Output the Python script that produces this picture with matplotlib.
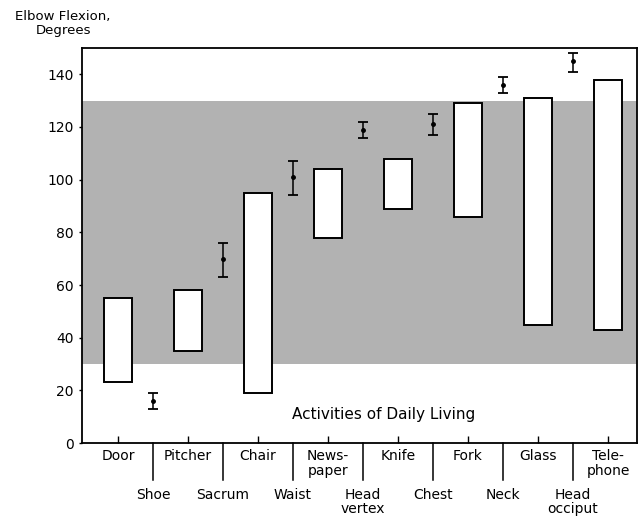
import matplotlib
matplotlib.use("Agg")
import matplotlib.pyplot as plt

# Range of elbow flexion (degrees) used for each activity of daily living
activities = ["Door", "Pitcher", "Chair", "News-\npaper", "Knife", "Fork", "Glass", "Tele-\nphone"]
range_low = [23, 35, 19, 78, 89, 86, 45, 43]
range_high = [55, 58, 95, 104, 108, 129, 131, 138]

# Flexion needed to reach body locations: mean with spread
reach_sites = ["Shoe", "Sacrum", "Waist", "Head\nvertex", "Chest", "Neck", "Head\nocciput"]
reach_mean = [16, 70, 101, 119, 121, 136, 145]
reach_low = [13, 63, 94, 116, 117, 133, 141]
reach_high = [19, 76, 107, 122, 125, 139, 148]

# Functional arc of motion
functional_arc = (30, 130)

y_ticks = [0, 20, 40, 60, 80, 100, 120, 140]

plt.rcParams["font.family"] = ["DejaVu Sans"]

fig = plt.figure(figsize=(6.43, 5.17), dpi=100)
ax = fig.add_axes([0.1275, 0.1431, 0.8632, 0.7641])

ax.axhspan(functional_arc[0], functional_arc[1], color="#b2b2b2", lw=0, zorder=0)

# Open boxes for activity ranges
x_act = list(range(len(activities)))
heights = [h - l for l, h in zip(range_low, range_high)]
ax.bar(x_act, heights, bottom=range_low, width=0.4, color="white",
       edgecolor="black", linewidth=1.4, zorder=3)

# Reach points sit between the activity columns
x_reach = [i + 0.5 for i in range(len(reach_sites))]
err_lo = [m - l for m, l in zip(reach_mean, reach_low)]
err_hi = [h - m for m, h in zip(reach_mean, reach_high)]
ax.errorbar(x_reach, reach_mean, yerr=[err_lo, err_hi], fmt="o", color="black",
            markersize=2.5, capsize=3.6, elinewidth=1.1, capthick=1.3, zorder=4)

ax.set_xlim(-0.514, 7.414)
ax.set_ylim(0, 150)
ax.set_yticks(y_ticks)
ax.tick_params(axis="y", length=2, width=1, labelsize=10, pad=4)
ax.set_xticks(x_act)
ax.set_xticklabels([])
ax.tick_params(axis="x", direction="in", length=5, width=1)
for s in ax.spines.values():
    s.set_linewidth(1.3)

# Column labels and long separators below the axis
for x, name in zip(x_act, activities):
    ax.text(x, -2.2, name, ha="center", va="top", fontsize=10, linespacing=1.1,
            clip_on=False)
for x, name in zip(x_reach, reach_sites):
    ax.plot([x, x], [0, -14], color="black", lw=1.1, clip_on=False)
    ax.text(x, -17.0, name, ha="center", va="top", fontsize=10, linespacing=1.0,
            clip_on=False)

ax.text(3.79, 11, "Activities of Daily Living", ha="center", va="center", fontsize=11)

fig.text(0.098, 0.955, "Elbow Flexion,\nDegrees", ha="center", va="center",
         fontsize=9.5, multialignment="center", linespacing=1.15)

fig.savefig("out.png", dpi=100, facecolor="white")
